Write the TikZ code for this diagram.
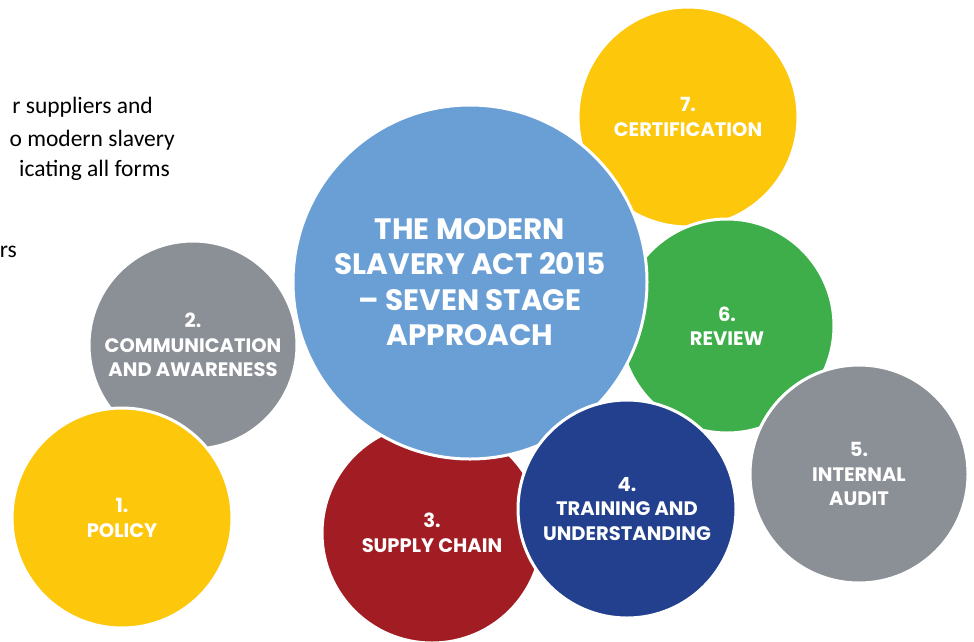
\documentclass[tikz,border=0pt]{standalone}
\usepackage{fontspec}
\setmainfont{Carlito}
\newfontfamily\stagefont{Poppins}
\usepackage{tikz}
\usetikzlibrary{shapes,positioning}
\definecolor{sunyellow}{HTML}{FDC70C}
\definecolor{slategrey}{HTML}{8B9097}
\definecolor{skyblue}{HTML}{6A9FD6}
\definecolor{leafgreen}{HTML}{3DAE49}
\definecolor{winered}{HTML}{A21C23}
\definecolor{navyblue}{HTML}{22408D}
\tikzstyle{stage} = [circle, draw=white, line width=3pt, text=white, align=center, inner sep=0pt, font=\stagefont\bfseries\fontsize{19.5}{24.5}\selectfont]
\tikzstyle{hub} = [stage, font=\stagefont\bfseries\fontsize{29.5}{35.5}\selectfont]
\tikzstyle{intro} = [anchor=east, inner sep=0pt, text=black, font=\fontsize{23.5}{28}\selectfont]

\begin{document}
\begin{tikzpicture}[x=1pt,y=-1pt]
			\useasboundingbox (0,0) rectangle (974,641);
			\clip (0,0) rectangle (974,641);
			
			% text cut at the left edge
			\node[intro] (txta) at (153,107) {r suppliers and};
			\node[intro] (txtb) at (175,140) {o modern slavery};
			\node[intro] (txtc) at (170,170) {icating all forms};
			\node[intro] (txtd) at (17,252) {rs};
			
			%circles
			\node[stage, fill=sunyellow, minimum size=220pt] (cert) at (688,117) {7.\\CERTIFICATION};
			\node[stage, fill=leafgreen, minimum size=214pt] (review) at (727,326) {6.\\REVIEW};
			\node[stage, fill=slategrey, minimum size=218pt] (audit) at (859,474) {5.\\INTERNAL\\AUDIT};
			\node[stage, fill=slategrey, minimum size=208pt] (comms) at (193,345) {2.\\COMMUNICATION\\AND AWARENESS};
			\node[stage, fill=sunyellow, minimum size=220pt] (policy) at (122,518) {1.\\POLICY};
			\node[stage, fill=winered, minimum size=220pt] (supply) at (432,533) {3.\\SUPPLY CHAIN};
			\node[hub, fill=skyblue, minimum size=354pt] (act) at (470,282) {THE MODERN\\SLAVERY ACT 2015\\– SEVEN STAGE\\APPROACH};
			\node[stage, fill=navyblue, minimum size=218pt] (train) at (627,509) {4.\\TRAINING AND\\UNDERSTANDING};
			
		\end{tikzpicture}
\end{document}
